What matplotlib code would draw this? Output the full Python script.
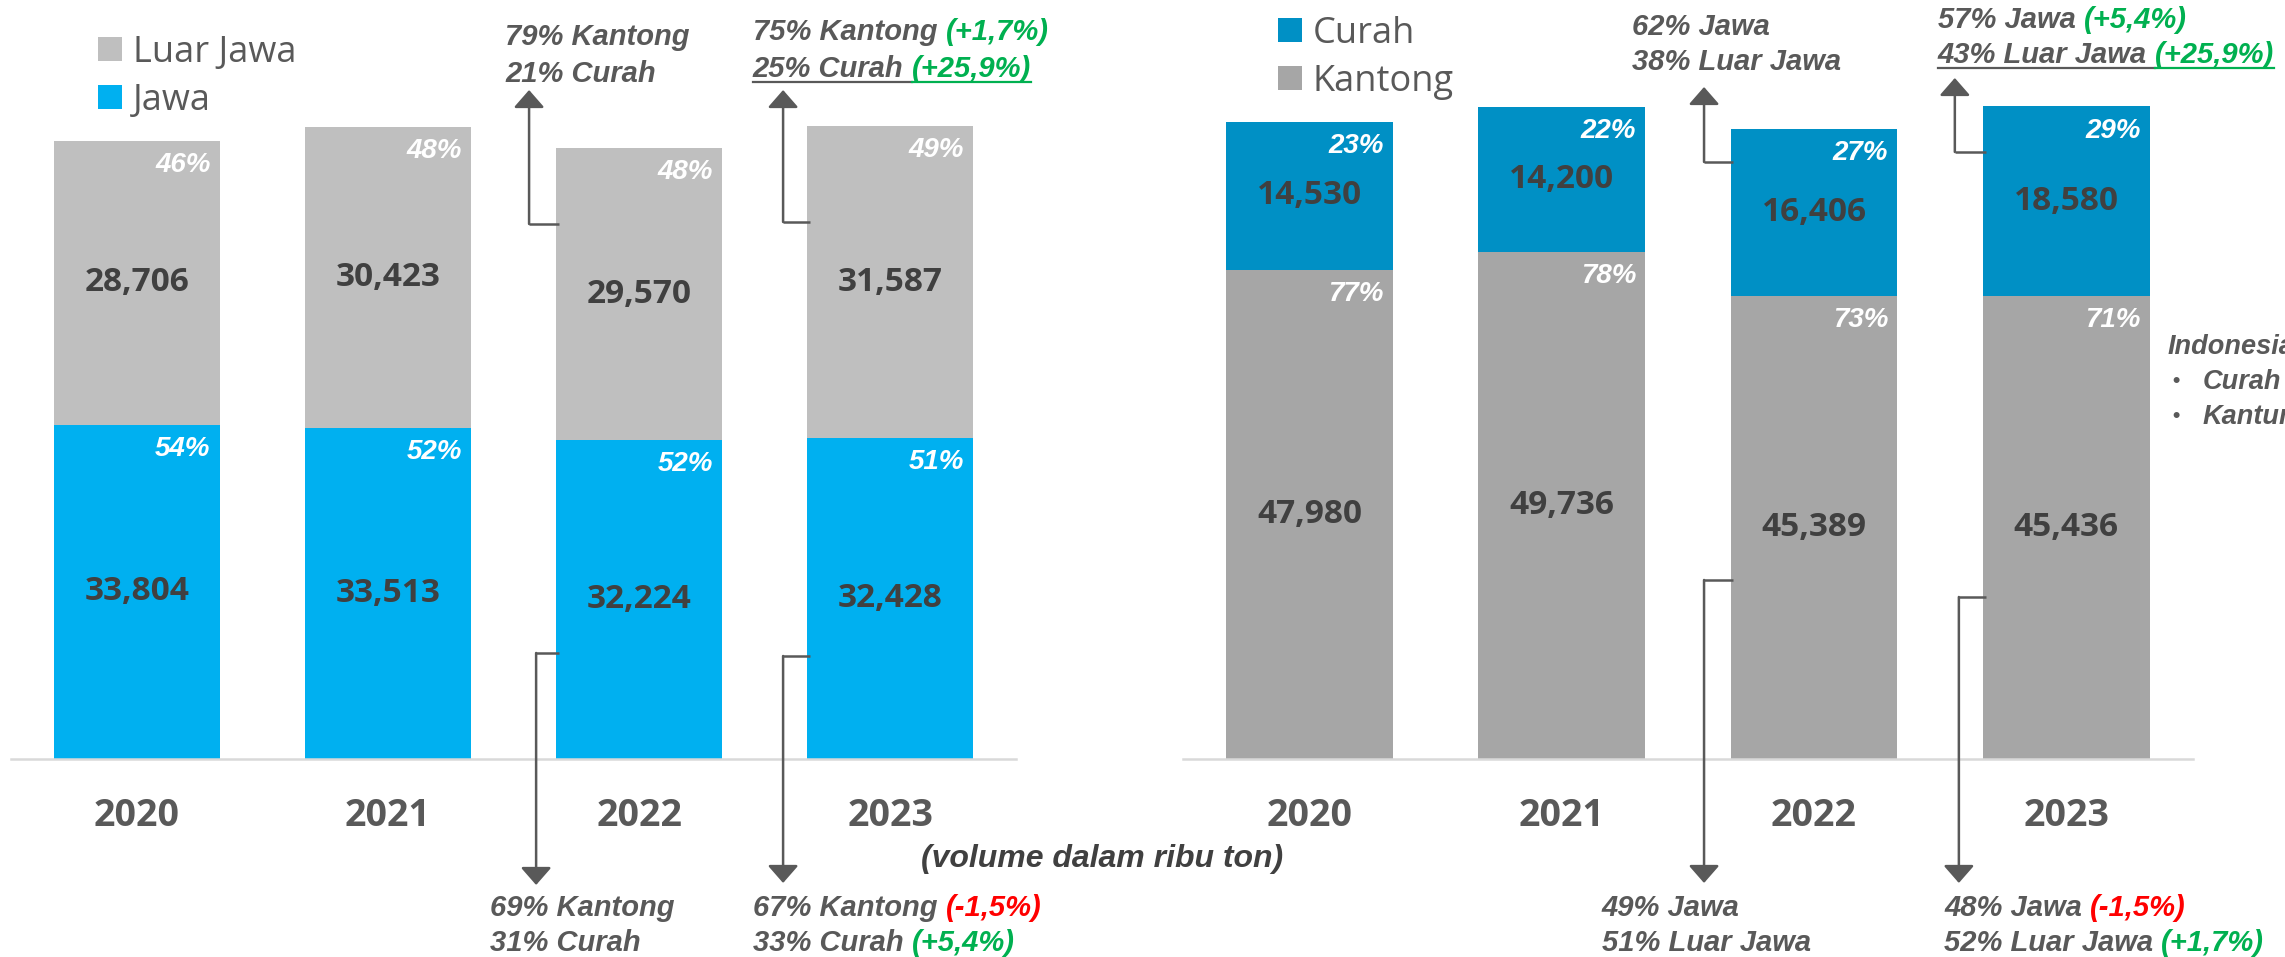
import numpy as np
import matplotlib
matplotlib.use('Agg')
from matplotlib import pyplot as plt
from matplotlib.lines import Line2D

#-------------------------------------------------
### data (ribu ton)

years     = ['2020', '2021', '2022', '2023']
jawa      = [33804, 33513, 32224, 32428]
luar_jawa = [28706, 30423, 29570, 31587]
kantong   = [47980, 49736, 45389, 45436]
curah     = [14530, 14200, 16406, 18580]

GRAY  = '#595959'
GREEN = '#00B050'
RED   = '#FF0000'

### callout texts, each row is a list of (text, colour)
left_top_2022 = [[('79% Kantong', GRAY)], [('21% Curah', GRAY)]]
left_top_2023 = [[('75% Kantong', GRAY), ('(+1,7%)', GREEN)],
                 [('25% Curah', GRAY), ('(+25,9%)', GREEN)]]
left_bot_2022 = [[('69% Kantong', GRAY)], [('31% Curah', GRAY)]]
left_bot_2023 = [[('67% Kantong', GRAY), ('(-1,5%)', RED)],
                 [('33% Curah', GRAY), ('(+5,4%)', GREEN)]]

right_top_2022 = [[('62% Jawa', GRAY)], [('38% Luar Jawa', GRAY)]]
right_top_2023 = [[('57% Jawa', GRAY), ('(+5,4%)', GREEN)],
                  [('43% Luar Jawa', GRAY), ('(+25,9%)', GREEN)]]
right_bot_2022 = [[('49% Jawa', GRAY)], [('51% Luar Jawa', GRAY)]]
right_bot_2023 = [[('48% Jawa', GRAY), ('(-1,5%)', RED)],
                  [('52% Luar Jawa', GRAY), ('(+1,7%)', GREEN)]]

side_title = 'Indonesia'
side_items = ['Curah', 'Kantung']

#-------------------------------------------------

plt.rcParams['font.family'] = ['Open Sans', 'DejaVu Sans']

W, H = 2285, 957
fig = plt.figure(figsize=(W/100., H/100.), dpi=100)

BW   = 0.66
NOTE = dict(family=['Liberation Sans', 'DejaVu Sans'], fontsize=21,
            fontweight='bold', fontstyle='italic')
ARROW = dict(arrowstyle='-|>,head_length=0.4,head_width=0.35',
             mutation_scale=27, color=GRAY, lw=1.8, shrinkA=0, shrinkB=0)

underlined = []

def stacked(ax, low, high, c_low, c_high, l_low, l_high):
    x = np.arange(len(years))
    low = np.array(low)
    high = np.array(high)
    total = low + high
    b1 = ax.bar(x, low, width=BW, color=c_low, label=l_low)
    b2 = ax.bar(x, high, width=BW, bottom=low, color=c_high, label=l_high)
    for bars, vals in ((b1, low), (b2, high)):
        ax.bar_label(bars, labels=['{:,}'.format(v) for v in vals],
                     label_type='center', color='#404040', fontsize=24,
                     fontweight='bold')
    for i in range(len(years)):
        for top, v in ((low[i], low[i]), (total[i], high[i])):
            ax.annotate('%d%%' % round(100.0*v/total[i]), xy=(i + BW/2, top),
                        xytext=(-6.5, -8), textcoords='offset points',
                        ha='right', va='top', color='white', fontsize=20,
                        fontweight='bold', fontstyle='italic',
                        family=['Liberation Sans', 'DejaVu Sans'])

    ax.set_xlim(-0.5, len(years) - 0.5)
    ax.set_ylim(0, 70000)
    ax.set_xticks(x, years)
    ax.tick_params(axis='x', length=0, pad=27, labelsize=27, labelcolor=GRAY)
    for lab in ax.get_xticklabels():
        lab.set_fontweight('bold')
    ax.set_yticks([])
    for s in ('left', 'right', 'top'):
        ax.spines[s].set_visible(False)
    ax.spines['bottom'].set_color('#D9D9D9')
    ax.spines['bottom'].set_linewidth(1.8)
    return b1, b2

def callout(ax, i, x_line, y_from, y_tip, x_text, baselines, rows, underline=False):
    ### elbow from bar edge, then arrow to the text
    ax.plot([i - BW/2 + 0.01, x_line], [y_from, y_from], color=GRAY, lw=1.8,
            clip_on=False, solid_capstyle='butt')
    ax.annotate('', xy=(x_line, y_tip), xytext=(x_line, y_from),
                arrowprops=ARROW, annotation_clip=False)
    for r, (row, yb) in enumerate(zip(rows, baselines)):
        txt, col = row[0]
        prev = ax.text(x_text, yb, txt, color=col, ha='left', va='baseline', **NOTE)
        parts = [prev]
        for txt, col in row[1:]:
            prev = ax.annotate(txt, xy=(1, 0), xycoords=prev, xytext=(5.8, 0),
                               textcoords='offset points', ha='left', va='bottom',
                               color=col, **NOTE)
            parts.append(prev)
        if underline and r == len(rows) - 1:
            underlined.append((ax, yb, parts))

LEG = dict(loc='upper left', bbox_transform=fig.transFigure, frameon=False,
           fontsize=26, labelcolor=GRAY, handlelength=0.66, handleheight=0.66,
           handletextpad=0.3, labelspacing=0.33, borderpad=0, borderaxespad=0)

#-------------------------------------------------
### left: Jawa / Luar Jawa

ax1 = fig.add_axes([11./W, 198./H, 1005./W, 692.4/H])
b1, b2 = stacked(ax1, jawa, luar_jawa, '#00B0F0', '#BFBFBF', 'Jawa', 'Luar Jawa')

callout(ax1, 2, 1.562, 54089, 67636, 1.466, [72185, 68445], left_top_2022)
callout(ax1, 3, 2.573, 54291, 67636, 2.453, [72691, 68950], left_top_2023, underline=True)
callout(ax1, 2, 1.590, 10717, -12739, 1.407, [-15873, -19411], left_bot_2022)
callout(ax1, 3, 2.573, 10413, -12536, 2.453, [-15873, -19411], left_bot_2023)

ax1.legend(handles=[b2, b1], bbox_to_anchor=(98./W, 1 - 35./H), **LEG)

#-------------------------------------------------
### right: Kantong / Curah

ax2 = fig.add_axes([1183.3/W, 198./H, 1009.2/W, 713.6/H])
b3, b4 = stacked(ax2, kantong, curah, '#A6A6A6', '#0090C5', 'Kantong', 'Curah')

callout(ax2, 2, 1.564, 58566, 65923, 1.278, [71024, 67591], right_top_2022)
callout(ax2, 3, 2.558, 59547, 66806, 2.491, [71711, 68278], right_top_2023, underline=True)
callout(ax2, 2, 1.564, 17560, -12164, 1.159, [-15402, -18835], right_bot_2022)
callout(ax2, 3, 2.574, 15892, -12164, 2.515, [-15402, -18835], right_bot_2023)

ax2.legend(handles=[b4, b3], bbox_to_anchor=(1278./W, 1 - 16./H), **LEG)

#-------------------------------------------------
### free text

fig.text(1102./W, 1 - 859./H, '(volume dalam ribu ton)', ha='center', va='center',
         color='#404040', **dict(NOTE, fontsize=23))

### side note, cut by the right edge as in the source slide
side = dict(family=['Liberation Sans', 'DejaVu Sans'], fontsize=19.5,
            fontweight='bold', fontstyle='italic', color=GRAY, va='center')
fig.text(2168./W, 1 - 347./H, side_title, **side)
for k, word in enumerate(side_items):
    yy = 1 - (382. + 35*k)/H
    fig.text(2172./W, yy, u'\u2022', **dict(side, fontstyle='normal', fontsize=15))
    fig.text(2203./W, yy, word, **side)

### underline the last row of the 2023 top callouts
fig.canvas.draw()
r = fig.canvas.get_renderer()
for ax, yb, parts in underlined:
    y = ax.transData.transform((0, yb))[1] - 5
    x0 = parts[0].get_window_extent(r).x0
    x1 = parts[1].get_window_extent(r).x0
    x2 = parts[1].get_window_extent(r).x1
    fig.add_artist(Line2D([x0/W, x1/W], [y/H, y/H], color=GRAY, lw=1.6))
    fig.add_artist(Line2D([x1/W, x2/W], [y/H, y/H], color=GREEN, lw=1.6))

fig.savefig('out.png', dpi=100)
plt.close(fig)
